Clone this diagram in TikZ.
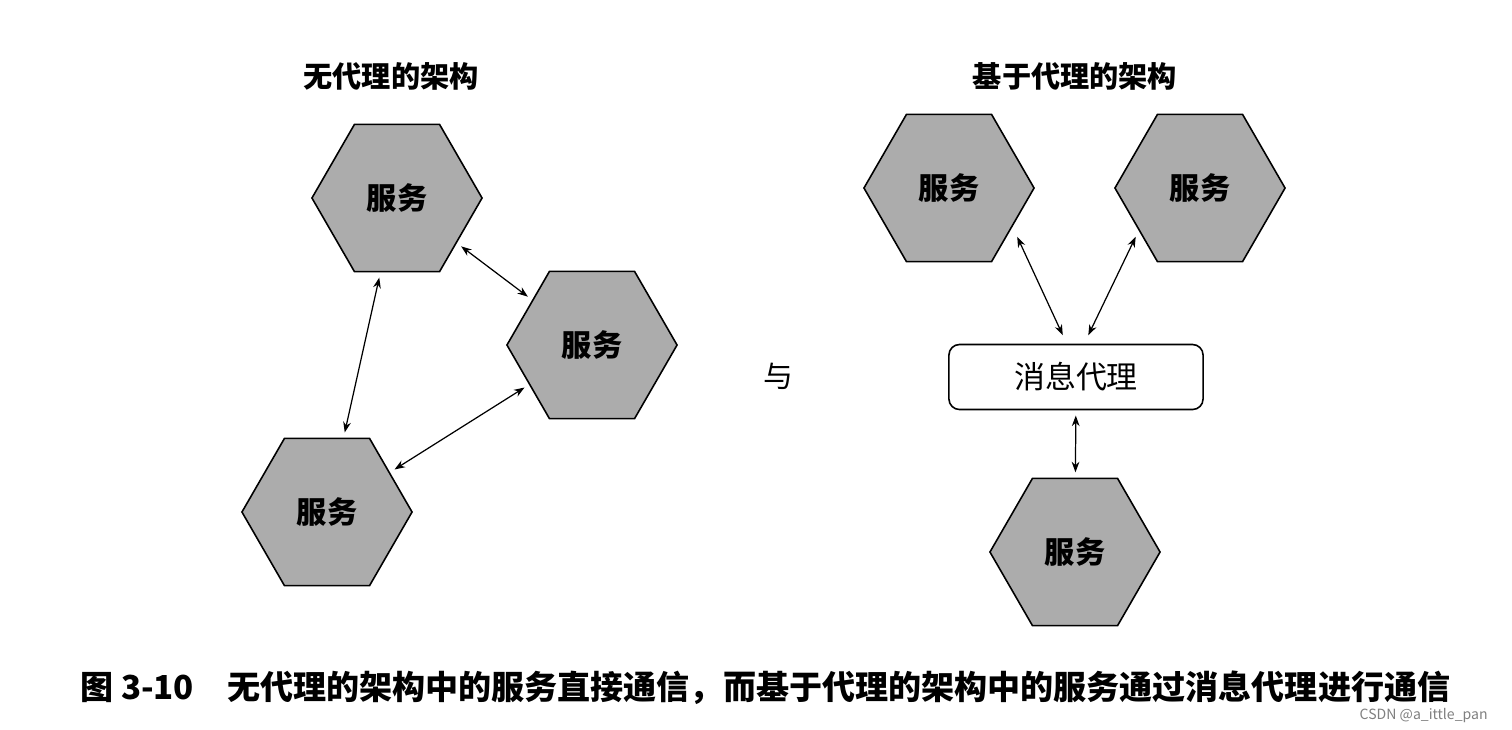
\documentclass[tikz,border=0pt]{standalone}
\usepackage{fontspec}
\setmainfont{Noto Sans CJK SC}
\usetikzlibrary{shapes.geometric,arrows.meta}
\definecolor{hexgray}{RGB}{172,172,172}
\begin{document}
\begin{tikzpicture}[x=0.01cm,y=-0.01cm,
 hexsvc/.style={regular polygon,regular polygon sides=6,shape border rotate=0,minimum size=1.70cm,inner sep=0pt,draw=black,line width=0.45pt,fill=hexgray,font=\bfseries\fontsize{8.6}{10}\selectfont},
 conn/.style={{Stealth[length=3pt,width=2.2pt]}-{Stealth[length=3pt,width=2.2pt]},line width=0.35pt,shorten <=1.5pt,shorten >=1.5pt},
 title/.style={font=\bfseries\fontsize{8.3}{10}\selectfont}]
\useasboundingbox[fill=white] (0,0) rectangle (1512,729);
\node[title] (t1) at (391,76) {无代理的架构};
\node[title] (t2) at (1075,76) {基于代理的架构};
\node[hexsvc] (l1) at (397,198) {服务};
\node[hexsvc] (l2) at (592,345) {服务};
\node[hexsvc] (l3) at (327,512) {服务};
\node[hexsvc] (r1) at (949,188) {服务};
\node[hexsvc] (r2) at (1200,188) {服务};
\node[hexsvc] (r3) at (1075,552) {服务};
\node[draw,rounded corners=3pt,line width=0.45pt,minimum width=2.54cm,minimum height=0.65cm,font=\fontsize{8.8}{10}\selectfont] (b) at (1076,377) {消息代理};
\node[font=\fontsize{8.5}{10}\selectfont] (yu) at (778,376) {与};
\coordinate (bl) at (1065,340);
\coordinate (br) at (1086,340);
\coordinate (r1e) at (1015,232);
\coordinate (r2e) at (1138,232);
\draw[conn] (l1) -- (l2);
\draw[conn] (l1) -- (l3);
\draw[conn] (l3) -- (l2);
\draw[conn] (r1e) -- (bl);
\draw[conn] (r2e) -- (br);
\draw[conn] (b) -- (r3);
\node[anchor=west,font=\bfseries\fontsize{9.4}{11}\selectfont] (cap) at (68,688) {图 3-10\quad 无代理的架构中的服务直接通信，而基于代理的架构中的服务通过消息代理进行通信};
\node[anchor=east,text=gray,font=\fontsize{4}{5}\selectfont] (wm) at (1500,715) {CSDN @a\_ittle\_pan};
\end{tikzpicture}
\end{document}
